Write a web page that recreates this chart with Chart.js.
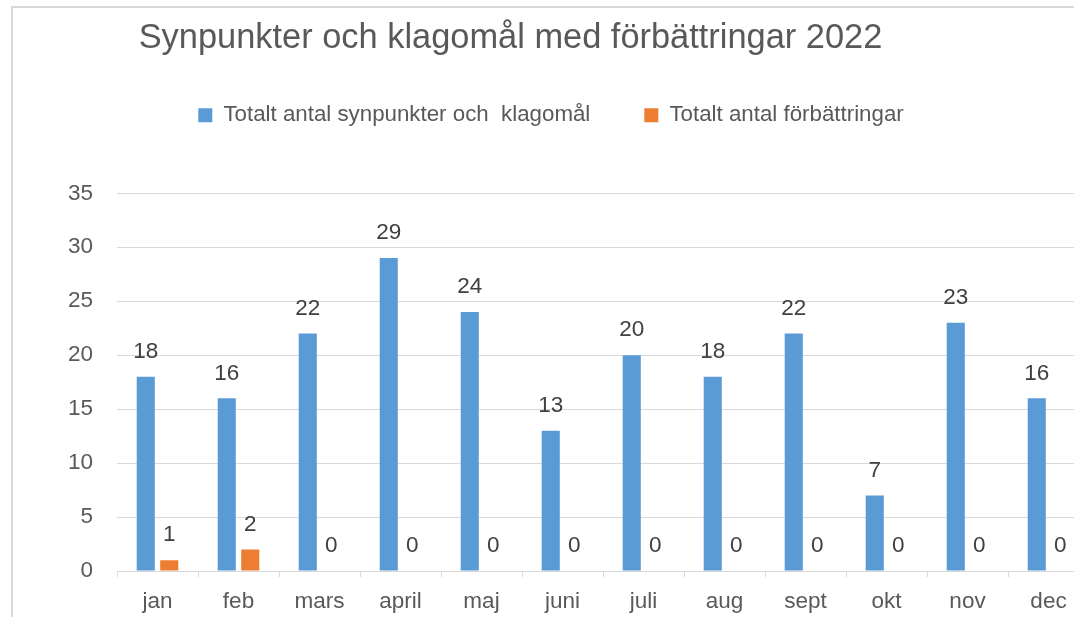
<!DOCTYPE html>
<html>
<head>
<meta charset="utf-8">
<script src="https://cdn.jsdelivr.net/npm/chart.js@4"></script>
<style>
	html, body { margin: 0; padding: 0; background: #fff; overflow: hidden; }
	#frame { position: absolute; left: 11px; top: 6px; width: 1200px; height: 700px; border: 2px solid #d9d9d9; }
	#c { position: absolute; left: 0; top: 0; }
</style>
</head>
<body>
<div id="frame"><canvas id="c" width="1076" height="609"></canvas></div>
<script>
// --- Data ---
const months = ["jan", "feb", "mars", "april", "maj", "juni", "juli", "aug", "sept", "okt", "nov", "dec"];
const feedback = [18, 16, 22, 29, 24, 13, 20, 18, 22, 7, 23, 16];
const improvements = [1, 2, 0, 0, 0, 0, 0, 0, 0, 0, 0, 0];
const seriesNames = ["Totalt antal synpunkter och  klagomål", "Totalt antal förbättringar"];
const chartTitle = "Synpunkter och klagomål med förbättringar 2022";

const FONT = '"Liberation Sans", Arial, sans-serif';
const TEXT = "#595959";
const GRID = "#d9d9d9";

Chart.defaults.font.family = FONT;
Chart.defaults.color = TEXT;

// title drawn at its own spot (Excel puts it left of the canvas centre)
const titlePlugin = {
	id: "titleText",
	afterDraw(chart) {
		const ctx = chart.ctx;
		ctx.save();
		ctx.font = "34.4px " + FONT;
		ctx.fillStyle = TEXT;
		ctx.textAlign = "center";
		ctx.textBaseline = "middle";
		ctx.fillText(chartTitle, 497.5, 31);
		ctx.restore();
	},
};

// value labels above every bar
const valueLabels = {
	id: "valueLabels",
	afterDatasetsDraw(chart) {
		const ctx = chart.ctx;
		ctx.save();
		ctx.font = "22.5px " + FONT;
		ctx.fillStyle = "#404040";
		ctx.textAlign = "center";
		ctx.textBaseline = "middle";
		chart.data.datasets.forEach((ds, i) => {
			chart.getDatasetMeta(i).data.forEach((bar, j) => {
				ctx.fillText(String(ds.data[j]), bar.x, bar.y - 25);
			});
		});
		ctx.restore();
	},
};

new Chart(document.getElementById("c"), {
	type: "bar",
	data: {
		labels: months,
		datasets: [
			{ label: seriesNames[0], data: feedback, backgroundColor: "#5b9bd5" },
			{ label: seriesNames[1], data: improvements, backgroundColor: "#ed7d31" },
		],
	},
	options: {
		responsive: false,
		animation: false,
		categoryPercentage: 0.58,
		barPercentage: 0.77,
		layout: { padding: { top: 42, left: 0, right: 0, bottom: 0 } },
		plugins: {
			legend: {
				display: true,
				position: "top",
				labels: {
					font: { size: 22.3 },
					color: TEXT,
					boxWidth: 14,
					boxHeight: 14,
					padding: 54,
				},
			},
			// empty subtitle used as spacer between legend and plot
			subtitle: {
				display: true,
				text: "",
				weight: 500,
				font: { size: 10 },
				padding: { top: 0, bottom: 45 },
			},
			tooltip: { enabled: false },
		},
		scales: {
			x: {
				afterFit: (s) => { s.height = 46; },
				grid: { display: true, drawOnChartArea: false, drawTicks: true, tickLength: 6, color: GRID, offset: true },
				border: { display: true, color: GRID },
				ticks: { font: { size: 22.5 }, color: TEXT, padding: 11 },
			},
			y: {
				min: 0,
				max: 35,
				afterFit: (s) => { s.width = 104; },
				grid: { color: GRID, drawTicks: false },
				border: { display: false },
				ticks: { stepSize: 5, font: { size: 22.5 }, color: TEXT, padding: 24 },
			},
		},
	},
	plugins: [titlePlugin, valueLabels],
});
</script>
</body>
</html>
